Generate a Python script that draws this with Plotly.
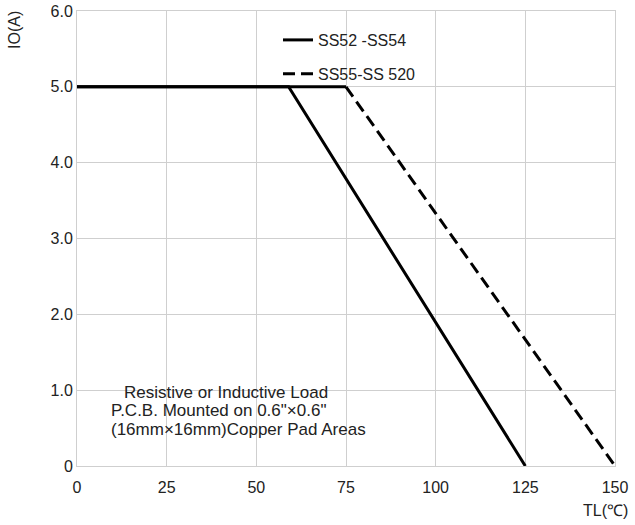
import plotly.graph_objects as go

# Data
ss52_x = [0, 59, 125]
ss52_y = [5.0, 5.0, 0.0]
ss55_x = [0, 75, 150]
ss55_y = [5.0, 5.0, 0.0]

x_ticks = [0, 25, 50, 75, 100, 125, 150]
x_tick_text = ["0", "25", "50", "75", "100", "125", "150"]
y_ticks = [0, 1, 2, 3, 4, 5, 6]
y_tick_text = ["0", "1.0", "2.0", "3.0", "4.0", "5.0", "6.0"]

note_lines = ["Resistive or Inductive Load",
              "P.C.B. Mounted on 0.6\"×0.6\"",
              "(16mm×16mm)Copper Pad Areas"]

FONT = "Liberation Sans, Arial, sans-serif"
TXT = "#222"

# plot area in screen pixels (body margin removed by post_script)
PL, PR, PT, PB = 77, 615, 11, 466


def px(sx):
    return (sx - PL) / (PR - PL)


def py(sy):
    return (PB - sy) / (PB - PT)


fig = go.Figure()
fig.add_trace(go.Scatter(x=ss55_x[:2], y=ss55_y[:2], mode="lines",
                         line=dict(color="black", width=3), showlegend=False,
                         hoverinfo="skip"))
fig.add_trace(go.Scatter(x=ss52_x, y=ss52_y, mode="lines", name="SS52 -SS54",
                         line=dict(color="black", width=3), legendgroup="a"))
fig.add_trace(go.Scatter(x=ss55_x[1:], y=ss55_y[1:], mode="lines", name="SS55-SS 520",
                         line=dict(color="black", width=3, dash="12px,6px"),
                         legendgroup="b"))

fig.update_layout(
    width=635, height=525,
    margin=dict(l=PL, r=635 - PR, t=PT, b=525 - PB, autoexpand=False),
    paper_bgcolor="white", plot_bgcolor="white",
    font=dict(family=FONT, size=16, color=TXT),
    showlegend=True,
    legend=dict(x=px(278), y=py(23), xref="paper", yref="paper",
                xanchor="left", yanchor="top", bgcolor="rgba(0,0,0,0)",
                font=dict(size=16, color=TXT), traceorder="grouped",
                tracegroupgap=10),
    xaxis=dict(range=[0, 150], tickvals=x_ticks, ticktext=x_tick_text,
               showgrid=True, gridcolor="#cfcfcf", gridwidth=1,
               zeroline=False, showline=True, linecolor="#cfcfcf", mirror=True,
               ticks="", ticklen=0, fixedrange=True, automargin=False,
               ticklabelstandoff=7),
    yaxis=dict(range=[0, 6], tickvals=y_ticks, ticktext=y_tick_text,
               showgrid=True, gridcolor="#cfcfcf", gridwidth=1,
               zeroline=False, showline=True, linecolor="#cfcfcf", mirror=True,
               ticks="", ticklen=0, fixedrange=True, automargin=False,
               ticklabeloverflow="allow"),
)

# white box behind the note
fig.add_shape(type="rect", xref="paper", yref="paper",
              x0=px(110), x1=px(372), y0=py(450), y1=py(378),
              fillcolor="white", line=dict(width=0), layer="between")

fig.add_annotation(text=note_lines[0], xref="paper", yref="paper",
                   x=px(226), y=py(392), xanchor="center", yanchor="middle",
                   showarrow=False, font=dict(size=17, color=TXT))
fig.add_annotation(text=note_lines[1], xref="paper", yref="paper",
                   x=px(109), y=py(410.5), xanchor="left", yanchor="middle",
                   showarrow=False, font=dict(size=17, color=TXT))
fig.add_annotation(text=note_lines[2], xref="paper", yref="paper",
                   x=px(109), y=py(429), xanchor="left", yanchor="middle",
                   showarrow=False, font=dict(size=17, color=TXT))

fig.add_annotation(text="IO(A)", textangle=-90, xref="paper", yref="paper",
                   x=px(15), y=py(30), xanchor="center",
                   yanchor="middle", showarrow=False, font=dict(size=16, color=TXT))
fig.add_annotation(text="TL(℃)", xref="paper", yref="paper",
                   x=px(605), y=py(510), xanchor="center",
                   yanchor="middle", showarrow=False, font=dict(size=16, color=TXT))

fig.write_html("out.html", config={"displayModeBar": False},
               post_script="document.body.style.margin='0';document.body.style.overflow='hidden';")
